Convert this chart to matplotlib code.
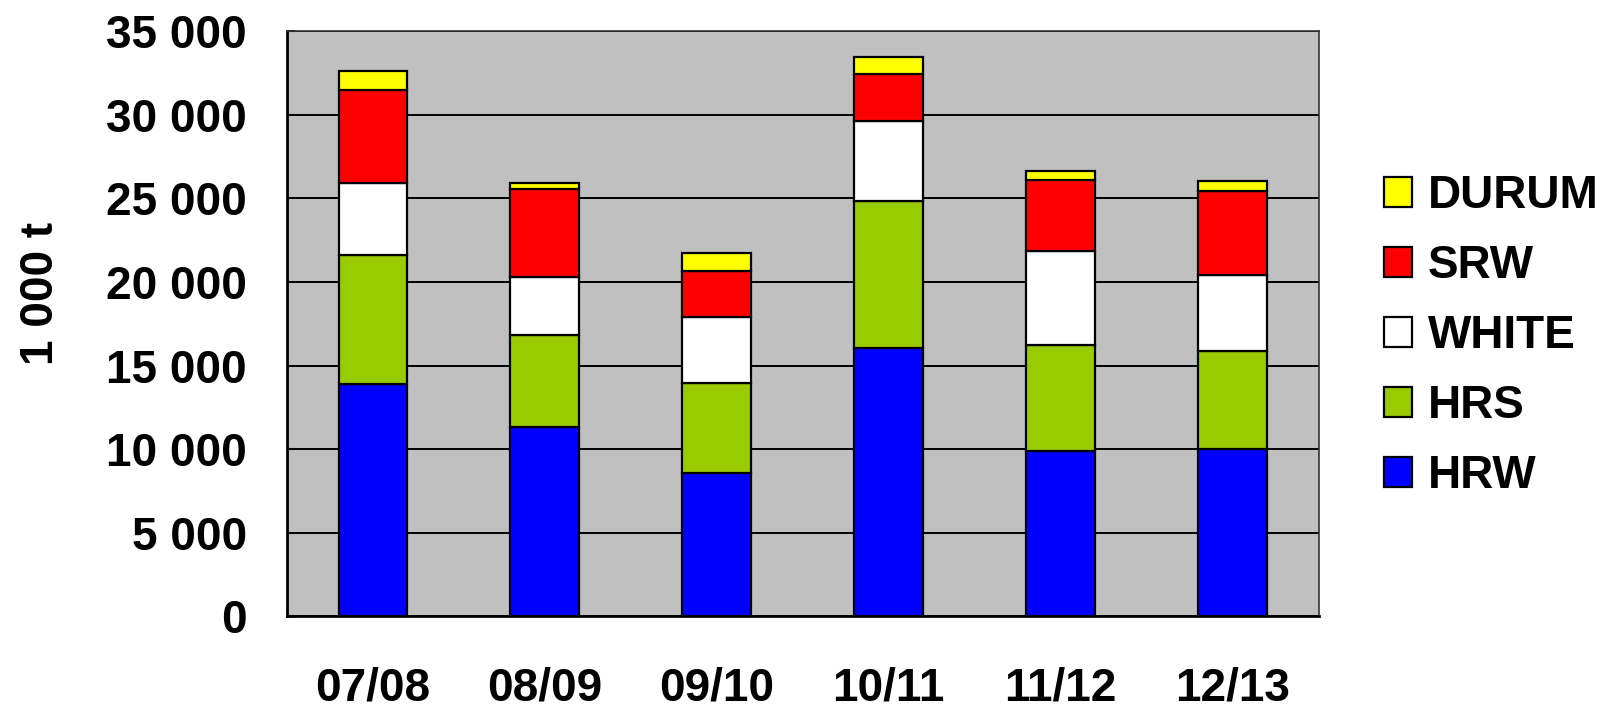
import numpy as np
import matplotlib
matplotlib.use("Agg")
import matplotlib.pyplot as plt

plt.rcParams['font.family'] = ['Liberation Sans', 'DejaVu Sans']

# crop years and wheat classes (1000 t), stacked bottom -> top
years = ["07/08", "08/09", "09/10", "10/11", "11/12", "12/13"]
hrw = [13870, 11330, 8600, 16020, 9890, 10020]
hrs = [7730, 5490, 5380, 8830, 6360, 5860]
white = [4300, 3480, 3920, 4760, 5600, 4550]
srw = [5590, 5240, 2740, 2860, 4280, 4990]
durum = [1140, 390, 1100, 990, 530, 620]

series = [("HRW", hrw, "#0000FF"),
          ("HRS", hrs, "#99CC00"),
          ("WHITE", white, "#FFFFFF"),
          ("SRW", srw, "#FF0000"),
          ("DURUM", durum, "#FFFF00")]

fig = plt.figure(figsize=(16.12, 7.1), dpi=100)
ax = fig.add_axes([0.178, 0.132, 0.640, 0.824])
ax.set_facecolor("#C0C0C0")

x = np.arange(len(years))
bottom = np.zeros(len(years))
handles = []
for name, vals, col in series:
    b = ax.bar(x, vals, width=0.4, bottom=bottom, color=col,
               edgecolor="black", linewidth=1.6, label=name, zorder=3)
    handles.append(b)
    bottom += np.array(vals)

ax.set_xlim(-0.5, len(years) - 0.5)
ax.set_ylim(0, 35000)
ax.set_yticks(np.arange(0, 35001, 5000))
ax.set_yticklabels([f"{v:,}".replace(",", " ") for v in range(0, 35001, 5000)])
ax.yaxis.grid(True, color="black", linewidth=1.4, zorder=0)
ax.set_axisbelow(True)

ax.set_xticks(x)
ax.set_xticklabels(years)
ax.tick_params(axis="x", length=0, pad=36, labelsize=33)
ax.tick_params(axis="y", direction="in", length=6, width=1.5, pad=29, labelsize=33)
for lab in ax.get_xticklabels() + ax.get_yticklabels():
    lab.set_fontweight("bold")

for s in ["left", "bottom"]:
    ax.spines[s].set_linewidth(2)
for s in ["top", "right"]:
    ax.spines[s].set_linewidth(1.2)
    ax.spines[s].set_color("#333333")

fig.text(0.0255, 0.587, "1 000 t", rotation=90, fontsize=33, fontweight="bold",
         ha="center", va="center")

leg = fig.legend(handles[::-1], [s[0] for s in series][::-1],
                 loc="upper left", bbox_to_anchor=(0.847, 0.781),
                 frameon=False, prop={"weight": "bold", "size": 33},
                 handlelength=0.62, handleheight=0.62, handletextpad=0.35,
                 labelspacing=0.57, borderaxespad=0)

fig.savefig("out.png", dpi=100)
